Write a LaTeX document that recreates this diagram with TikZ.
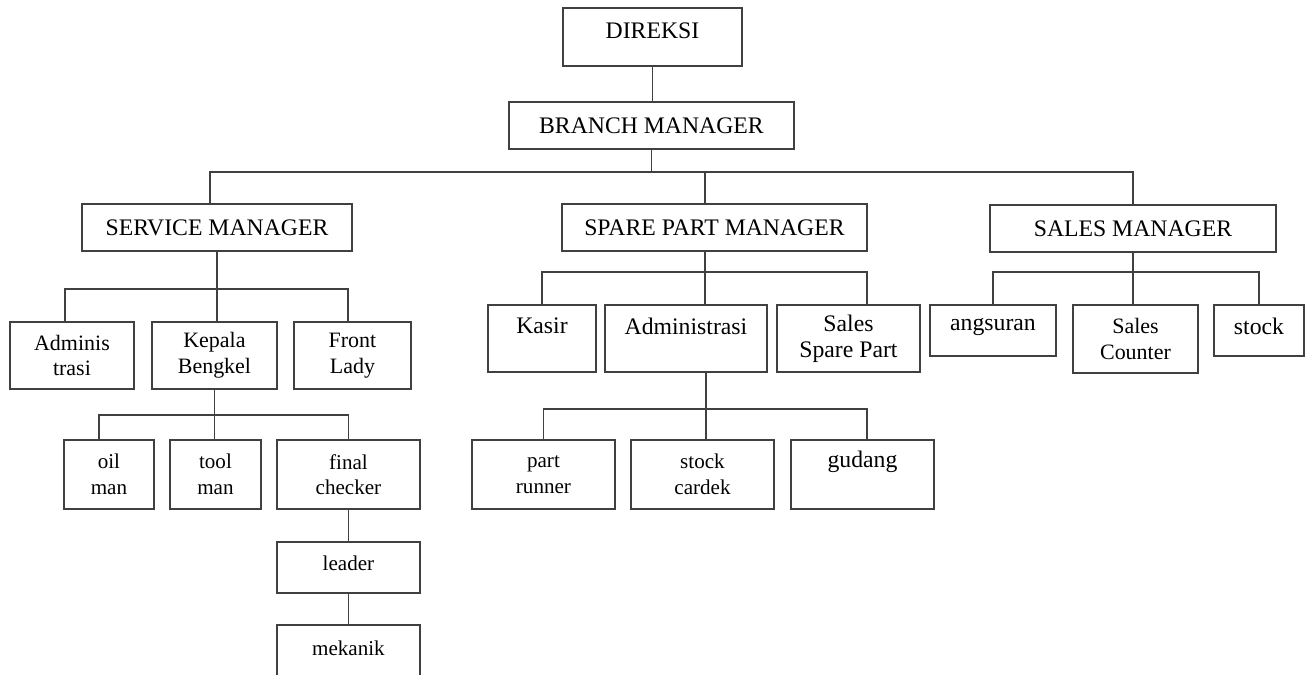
\documentclass[tikz,border=0pt]{standalone}
\usepackage{fontspec}
\setmainfont{Liberation Serif}
\tikzset{
	orgbox/.style={
		draw=black!75, line width=1.1pt, rectangle, inner sep=0pt, align=center,
		anchor=north west, font={\fontsize{12.5}{14.5}\selectfont}
	},
	capbox/.style={orgbox, font={\fontsize{13.5}{15}\selectfont}},
	bigbox/.style={orgbox, font={\fontsize{13.5}{14.8}\selectfont}},
	lowbox/.style={orgbox, font={\fontsize{12}{14.5}\selectfont}},
	boxsize/.style 2 args={minimum width=#1*0.02cm, minimum height=#2*0.02cm},
	lift/.style={text depth=#1*0.02cm},
	wire/.style={draw=black!75, line width=1.1pt},
}

\begin{document}
\begin{tikzpicture}[x=0.02cm, y=-0.02cm]
\fill[white] (0,0) rectangle (1307,675);
\useasboundingbox (0,0) rectangle (1307,675);

% top
\node[capbox, boxsize={179}{58}, lift=12] (direksi) at (562,7) {DIREKSI};
\node[capbox, boxsize={285}{47}] (bm) at (508,101) {BRANCH MANAGER};

% managers
\node[capbox, boxsize={270}{47}] (svc) at (81,203) {SERVICE MANAGER};
\node[capbox, boxsize={305}{47}] (spm) at (561,203) {SPARE PART MANAGER};
\node[capbox, boxsize={286}{47}] (sm) at (989,204) {SALES MANAGER};

% service
\node[orgbox, boxsize={124}{67}] (adm) at (9,321) {Adminis\\trasi};
\node[orgbox, boxsize={125}{67}] (kb) at (151,321) {Kepala\\Bengkel};
\node[orgbox, boxsize={117}{67}] (fl) at (293,321) {Front\\Lady};
\node[lowbox, boxsize={90}{69}] (oil) at (63,439) {oil\\man};
\node[lowbox, boxsize={91}{69}] (tool) at (169,439) {tool\\man};
\node[lowbox, boxsize={143}{69}] (fc) at (276,439) {final\\checker};
\node[lowbox, boxsize={143}{51}, lift=8] (leader) at (276,541) {leader};
\node[lowbox, boxsize={143}{53}, lift=7] (mek) at (276,624) {mekanik};

% spare part
\node[bigbox, boxsize={108}{67}, lift=25] (kasir) at (487,304) {Kasir};
\node[bigbox, boxsize={162}{67}, lift=25] (admin) at (604,304) {Administrasi};
\node[bigbox, boxsize={143}{67}] (ssp) at (776,304) {Sales\\Spare Part};
\node[lowbox, boxsize={143}{69}] (pr) at (471,439) {part\\runner};
\node[lowbox, boxsize={143}{69}] (sc) at (630,439) {stock\\cardek};
\node[bigbox, boxsize={143}{69}, lift=30] (gud) at (790,439) {gudang};

% sales
\node[bigbox, boxsize={126}{51}, lift=13] (ang) at (929,304) {angsuran};
\node[orgbox, boxsize={125}{68}] (scnt) at (1072,304) {Sales\\Counter};
\node[bigbox, boxsize={90}{51}, lift=9] (stk) at (1213,304) {stock};

% connectors
\draw[wire] (direksi.south) -- (direksi.south |- bm.north);

\coordinate (bm-bus) at ([yshift=-0.44cm]bm.south);
\coordinate (svc-in) at ([xshift=-0.14cm]svc.north);
\coordinate (spm-in) at ([xshift=-0.19cm]spm.north);
\draw[wire] (bm.south) -- (bm-bus);
\draw[wire] (svc-in) |- (bm-bus) -| (sm.north);
\draw[wire] (spm-in) -- (spm-in |- bm-bus);

\coordinate (svc-bus) at ([yshift=-0.74cm]svc.south);
\draw[wire] (svc.south) -- (svc.south |- kb.north);
\draw[wire] ([xshift=-0.14cm]adm.north) |- (svc-bus) -| ([xshift=-0.09cm]fl.north);

\coordinate (kb-bus) at ([yshift=-0.5cm]kb.south);
\draw[wire] (kb.south) -- (kb.south |- tool.north);
\draw[wire] ([xshift=-0.2cm]oil.north) |- (kb-bus) -| (fc.north);
\draw[wire] (fc.south) -- (leader.north);
\draw[wire] (leader.south) -- (mek.north);

\coordinate (spm-out) at ([xshift=-0.19cm]spm.south);
\coordinate (spm-bus) at ([yshift=-0.4cm]spm-out);
\draw[wire] (spm-out) -- (spm-out |- admin.north);
\draw[wire] (kasir.north) |- (spm-bus) -| ([xshift=0.37cm]ssp.north);

\coordinate (admin-out) at ([xshift=0.4cm]admin.south);
\coordinate (admin-bus) at ([yshift=-0.72cm]admin-out);
\draw[wire] (admin-out) -- (admin-out |- sc.north);
\draw[wire] (pr.north) |- (admin-bus) -| ([xshift=0.09cm]gud.north);

\coordinate (sm-bus) at ([yshift=-0.38cm]sm.south);
\draw[wire] (sm.south) -- (sm.south |- scnt.north);
\draw[wire] (ang.north) |- (sm-bus) -| (stk.north);
\end{tikzpicture}
\end{document}
